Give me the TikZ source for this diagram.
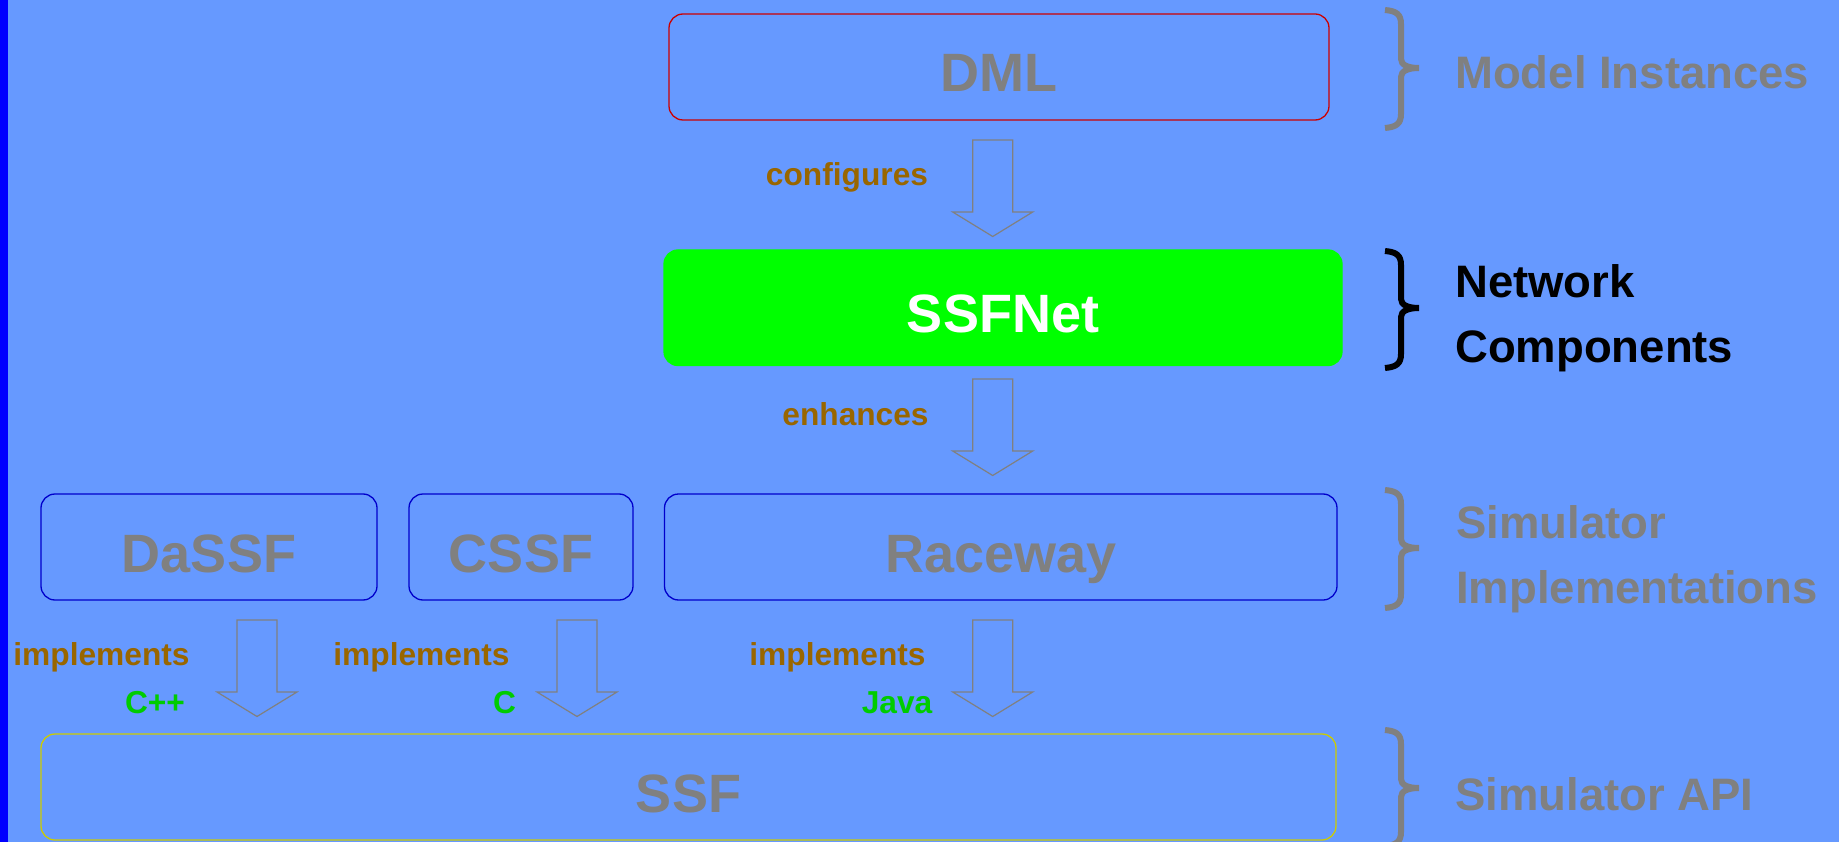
\documentclass[tikz,border=0pt]{standalone}
\usepackage{fontspec}
\setmainfont{Liberation Sans}
\definecolor{bg}{RGB}{102,153,255}
\definecolor{stripblue}{RGB}{0,0,255}
\definecolor{txtgray}{RGB}{128,128,128}
\definecolor{brown}{RGB}{153,102,0}
\definecolor{langgreen}{RGB}{0,204,0}
\definecolor{redline}{RGB}{204,0,0}
\definecolor{blueline}{RGB}{0,0,204}
\definecolor{yellowline}{RGB}{204,204,0}
\definecolor{netgreen}{RGB}{0,255,0}
\newcommand\boxfont{\fontsize{54}{60}\selectfont\bfseries}
\newcommand\lblfont{\fontsize{31.7}{38}\selectfont\bfseries}
\newcommand\sidefont{\fontsize{45.5}{54}\selectfont\bfseries}
\newcommand\blockarrow[2]{%
  \draw[blockarr] (#1-20,#2) -- (#1+20,#2) -- (#1+20,#2+72) -- (#1+40,#2+72)
    -- (#1,#2+96.5) -- (#1-40,#2+72) -- (#1-20,#2+72) -- cycle;}
\newcommand\sidebrace[4]{%
  \draw[bracestyle,#4] (1385,#1) .. controls (1396,#1+1) and (1401,#1+4) .. (1401,#1+14)
    -- (1401,#2-9) .. controls (1401,#2-3) and (1408,#2) .. (1419,#2)
    .. controls (1408,#2) and (1401,#2+3) .. (1401,#2+9)
    -- (1401,#3-14) .. controls (1401,#3-4) and (1396,#3-1) .. (1385,#3);}
\tikzset{
  box/.style={draw, line width=1.3pt, rounded corners=14pt, inner sep=0pt,
    text height=50pt, text depth=0pt, font=\boxfont, text=txtgray},
  blockarr/.style={draw=txtgray, line width=1.2pt, line join=miter},
  lbl/.style={font=\lblfont, text=brown, inner sep=0pt, anchor=base},
  lang/.style={font=\lblfont, text=langgreen, inner sep=0pt, anchor=base},
  side/.style={font=\sidefont, text=txtgray, inner sep=0pt, anchor=base west},
  bracestyle/.style={line width=6pt, line join=miter, line cap=butt},
}
\begin{document}
\begin{tikzpicture}[x=1pt,y=-1pt]
\fill[bg] (0,0) rectangle (1839,842);
\useasboundingbox (0,0) rectangle (1839,842);
\fill[stripblue] (0,0) rectangle (8,842);

% boxes
\node[box, draw=redline, minimum width=660pt, minimum height=106pt] (dml) at (999,67) {DML};
\node[box, draw=netgreen, fill=netgreen, text=white, minimum width=678pt, minimum height=115.5pt] (ssfnet) at (1003,307.75) {SSFNet};
\node[box, draw=blueline, minimum width=336pt, minimum height=106pt] (dassf) at (209,547) {DaSSF};
\node[box, draw=blueline, minimum width=224pt, minimum height=106pt] (cssf) at (521,547) {CSSF};
\node[box, draw=blueline, minimum width=672.5pt, minimum height=106pt] (raceway) at (1000.75,547) {Raceway};
\node[box, draw=yellowline, minimum width=1295pt, minimum height=106pt] (ssf) at (688.5,787) {SSF};

% block arrows
\blockarrow{992.7}{140}
\blockarrow{992.7}{379}
\blockarrow{257}{620}
\blockarrow{577}{620}
\blockarrow{992.7}{620}

% arrow labels
\node[lbl] (cfg) at (847,186) {configures};
\node[lbl] (enh) at (855.5,425) {enhances};
\node[lbl] (impa) at (101.5,665) {implements};
\node[lbl] (impb) at (421.5,665) {implements};
\node[lbl] (impc) at (837.5,665) {implements};
\node[lang] (cpp) at (155,713) {C++};
\node[lang] (clang) at (504.5,713) {C};
\node[lang] (java) at (897,713) {Java};

% braces
\sidebrace{10}{68}{128}{txtgray}
\sidebrace{251}{308}{368}{black}
\sidebrace{490}{548}{608}{txtgray}
\sidebrace{730}{788}{846}{txtgray}

% side labels
\node[side] (mi) at (1455,89) {Model Instances};
\node[side, text=black] (net1) at (1455,298) {Network};
\node[side, text=black] (net2) at (1455,362) {Components};
\node[side] (si1) at (1456,538) {Simulator};
\node[side] (si2) at (1456,603) {Implementations};
\node[side] (api) at (1455,810) {Simulator API};
\end{tikzpicture}
\end{document}
